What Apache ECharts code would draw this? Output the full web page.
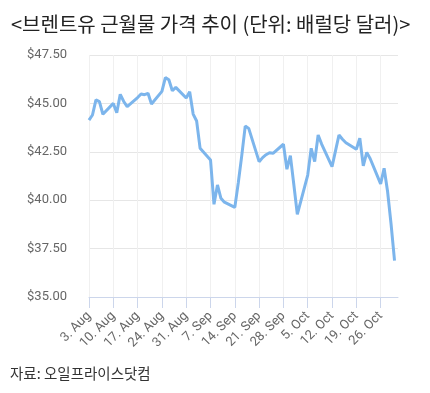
<!DOCTYPE html>
<html>
<head>
<meta charset="utf-8">
<script src="https://cdn.jsdelivr.net/npm/echarts@6/dist/echarts.min.js"></script>
<style>
html,body{margin:0;padding:0;background:#fff;}
#chart{width:430px;height:393px;}
</style>
</head>
<body>
<div id="chart"></div>
<script>
const dates = [
  '2020-08-03','2020-08-04','2020-08-05','2020-08-06','2020-08-07',
  '2020-08-10','2020-08-11','2020-08-12','2020-08-13','2020-08-14',
  '2020-08-17','2020-08-18','2020-08-19','2020-08-20','2020-08-21',
  '2020-08-24','2020-08-25','2020-08-26','2020-08-27','2020-08-28',
  '2020-08-31','2020-09-01','2020-09-02','2020-09-03','2020-09-04',
  '2020-09-07','2020-09-08','2020-09-09','2020-09-10','2020-09-11',
  '2020-09-14','2020-09-15','2020-09-16','2020-09-17','2020-09-18',
  '2020-09-21','2020-09-22','2020-09-23','2020-09-24','2020-09-25',
  '2020-09-28','2020-09-29','2020-09-30','2020-10-01','2020-10-02',
  '2020-10-05','2020-10-06','2020-10-07','2020-10-08','2020-10-09',
  '2020-10-12','2020-10-13','2020-10-14','2020-10-15','2020-10-16',
  '2020-10-19','2020-10-20','2020-10-21','2020-10-22','2020-10-23',
  '2020-10-26','2020-10-27','2020-10-28','2020-10-29','2020-10-30'
];
const prices = [
  44.14, 44.40, 45.18, 45.09, 44.44,
  45.00, 44.52, 45.47, 45.10, 44.83,
  45.30, 45.49, 45.45, 45.52, 44.97,
  45.62, 46.33, 46.22, 45.65, 45.83,
  45.28, 45.60, 44.45, 44.09, 42.68,
  42.08, 39.79, 40.79, 40.10, 39.90,
  39.63, 40.90, 42.30, 43.83, 43.71,
  41.99, 42.20, 42.35, 42.45, 42.42,
  42.89, 41.60, 42.30, 40.80, 39.27,
  41.30, 42.68, 41.99, 43.37, 42.90,
  41.73, 42.55, 43.37, 43.15, 42.97,
  42.63, 43.20, 41.77, 42.47, 42.14,
  40.84, 41.65, 40.45, 38.77, 36.88
];
const xTickLabels = ['3. Aug','10. Aug','17. Aug','24. Aug','31. Aug','7. Sep','14. Sep','21. Sep','28. Sep','5. Oct','12. Oct','19. Oct','26. Oct'];
const yTicks = [35, 37.5, 40, 42.5, 45, 47.5];
const titleText = '<브렌트유 근월물 가격 추이 (단위: 배럴당 달러)>';
const sourceText = '자료: 오일프라이스닷컴';
const startDate = '2020-08-03';
const endDate = '2020-10-31';

const DAY = 86400000;
const base = Date.parse(startDate);
const dayOffset = d => Math.round((Date.parse(d) - base) / DAY);
const seriesData = dates.map((d, i) => [dayOffset(d), prices[i]]);

const chart = echarts.init(document.getElementById('chart'), null, {renderer: 'canvas'});
chart.setOption({
  animation: false,
  backgroundColor: '#ffffff',
  title: [
    {
      text: titleText, left: 6, top: 9,
      textStyle: {fontFamily: '"Noto Sans CJK KR", sans-serif', fontSize: 20, fontWeight: 'normal', color: '#222'}
    },
    {
      text: sourceText, left: 5, top: 361,
      textStyle: {fontFamily: '"Noto Sans CJK KR", sans-serif', fontSize: 14.5, fontWeight: 'normal', color: '#333'}
    }
  ],
  grid: {left: 89, right: 32, top: 55, bottom: 96, containLabel: false},
  xAxis: {
    type: 'value',
    min: 0,
    max: dayOffset(endDate),
    interval: 7,
    axisLine: {show: true, lineStyle: {color: '#ccd6eb', width: 1}},
    axisTick: {show: true, length: 11, lineStyle: {color: '#ccd6eb'}},
    splitLine: {show: true, showMaxLine: false, lineStyle: {color: '#f0f0f0', width: 1}},
    axisLabel: {
      rotate: 45, margin: 17, color: '#666', fontSize: 13,
      fontFamily: 'Roboto, sans-serif',
      showMaxLabel: false,
      formatter: v => (v % 7 === 0 ? (xTickLabels[v / 7] || '') : '')
    }
  },
  yAxis: {
    type: 'value',
    min: yTicks[0],
    max: yTicks[yTicks.length - 1],
    interval: 2.5,
    axisLine: {show: false},
    axisTick: {show: false},
    splitLine: {show: true, lineStyle: {color: '#e6e6e6', width: 1}},
    axisLabel: {
      margin: 22, color: '#666', fontSize: 13,
      fontFamily: 'Roboto, sans-serif',
      formatter: v => '$' + v.toFixed(2)
    }
  },
  series: [{
    type: 'line',
    data: seriesData,
    showSymbol: false,
    symbol: 'none',
    lineStyle: {color: '#7cb5ec', width: 3},
    itemStyle: {color: '#7cb5ec'}
  }]
});
</script>
</body>
</html>
